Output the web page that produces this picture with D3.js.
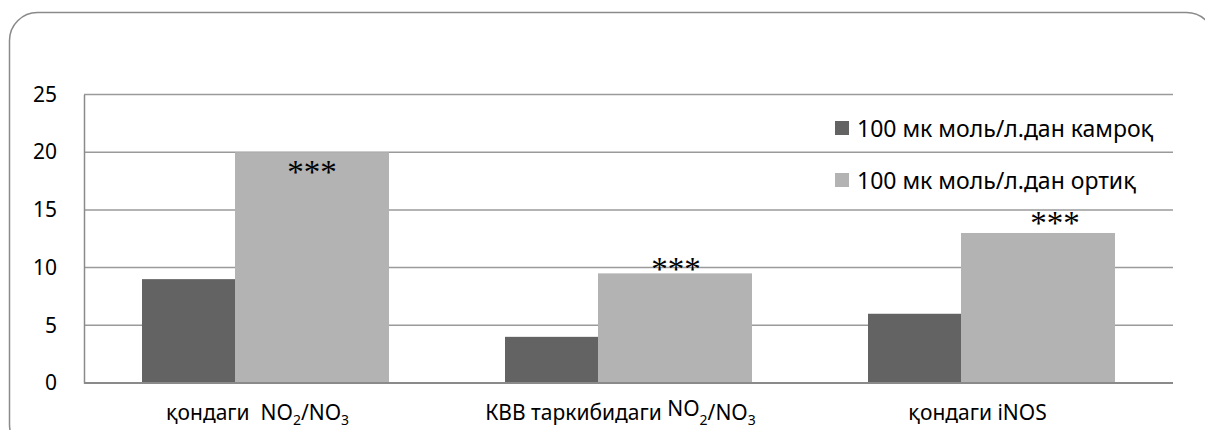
<!DOCTYPE html>
<html>
<head>
<meta charset="utf-8">
<script src="https://cdn.jsdelivr.net/npm/d3@7"></script>
<style>
  body { margin: 0; background: #fff; }
  svg { display: block; }
  text { font-family: "Noto Sans", sans-serif; fill: #000; }
</style>
</head>
<body>
<div id="chart"></div>
<script>
// chart data
const categories = ['cat1', 'cat2', 'cat3'];
const series = ['100 мк моль/л.дан камроқ', '100 мк моль/л.дан ортиқ'];
const lowValues = [9, 4, 6];
const highValues = [20, 9.5, 13];
const yTicks = [0, 5, 10, 15, 20, 25];
const stars = ['***', '***', '***'];
// category labels as [text, kind] pieces: 'n' normal, 's' subscript, 'r' raised
const catLabels = [
  [['қондаги  NO', 'n'], ['2', 's'], ['/NO', 'n'], ['3', 's']],
  [['КВВ таркибидаги ', 'n'], ['NO', 'r'], ['2', 's'], ['/NO', 'n'], ['3', 's']],
  [['қондаги iNOS', 'n']]
];

const boxWidth = 1205;
const boxHeight = 430;
const colors = ['#636363', '#b3b3b3'];

const svg = d3.select('#chart')
  .append('svg')
  .attr('width', boxWidth)
  .attr('height', boxHeight);

// outer rounded frame (cut off at right and bottom)
svg.append('rect')
  .attr('x', 9.5)
  .attr('y', 12.5)
  .attr('width', 1205)
  .attr('height', 440)
  .attr('rx', 28)
  .attr('fill', 'none')
  .attr('stroke', '#8a8a8a')
  .attr('stroke-width', 1.5);

const margin = { top: 94.5, left: 84, right: 32, bottom: 47 };
const plotW = boxWidth - margin.left - margin.right;
const plotH = boxHeight - margin.top - margin.bottom;

const graph = svg.append('g')
  .attr('transform', `translate(${margin.left}, ${margin.top})`);

const xScale = d3.scaleBand()
  .domain(categories)
  .range([0, plotW]);

const yScale = d3.scaleLinear()
  .domain([0, 25])
  .range([plotH, 0]);

// gridlines
graph.selectAll('.grid')
  .data(yTicks.filter(d => d > 0))
  .enter()
  .append('line')
  .attr('class', 'grid')
  .attr('x1', 0)
  .attr('x2', plotW)
  .attr('y1', d => yScale(d))
  .attr('y2', d => yScale(d))
  .attr('stroke', '#9a9a9a')
  .attr('stroke-width', 1.5);

// y axis
const yAxis = d3.axisLeft(yScale)
  .tickValues(yTicks)
  .tickSize(0)
  .tickPadding(27);
const yAxisGroup = graph.append('g').call(yAxis);
yAxisGroup.select('path')
  .attr('stroke', '#8a8a8a')
  .attr('stroke-width', 1.5);
yAxisGroup.selectAll('text')
  .style('font-family', '"Noto Sans", sans-serif')
  .style('font-size', '21px')
  .attr('fill', '#000');

// bars: second series overlaps the first
const barW = 154;
const step = 93;
const clusterW = barW + step;
const barX = (i, s) => xScale(categories[i]) + (xScale.bandwidth() - clusterW) / 2 + s * step;

[lowValues, highValues].forEach((vals, s) => {
  graph.selectAll('.bar' + s)
    .data(vals)
    .enter()
    .append('rect')
    .attr('class', 'bar' + s)
    .attr('x', (d, i) => barX(i, s))
    .attr('y', d => yScale(d))
    .attr('width', barW)
    .attr('height', d => plotH - yScale(d))
    .attr('fill', colors[s]);
});

// x axis line
graph.append('line')
  .attr('x1', 0)
  .attr('x2', plotW)
  .attr('y1', plotH)
  .attr('y2', plotH)
  .attr('stroke', '#8a8a8a')
  .attr('stroke-width', 2);

// significance stars (placed by hand in the original)
const starOffsets = [[0, 31], [1, 7], [17, 1]];
graph.selectAll('.star')
  .data(stars)
  .enter()
  .append('text')
  .attr('class', 'star')
  .attr('x', (d, i) => barX(i, 1) + barW / 2 + starOffsets[i][0])
  .attr('y', (d, i) => yScale(highValues[i]) + starOffsets[i][1])
  .attr('text-anchor', 'middle')
  .style('font-family', '"Liberation Serif", serif')
  .style('font-size', '33px')
  .attr('fill', '#1a1a1a')
  .text(d => d);

// category labels
const catText = graph.selectAll('.cat')
  .data(catLabels)
  .enter()
  .append('text')
  .attr('class', 'cat')
  .attr('x', (d, i) => xScale(categories[i]) + xScale.bandwidth() / 2 + (i === 2 ? -14 : -8))
  .attr('y', plotH + 37)
  .attr('text-anchor', 'middle')
  .style('font-size', '21px')
  .attr('xml:space', 'preserve');

catText.each(function(parts) {
  const t = d3.select(this);
  let shift = 0;
  parts.forEach(([str, kind]) => {
    const target = kind === 's' ? 5 : kind === 'r' ? -4 : 0;
    const ts = t.append('tspan').text(str);
    if (target !== shift) ts.attr('dy', target - shift);
    if (kind === 's') ts.style('font-size', '14px');
    shift = target;
  });
});

// legend
const legend = svg.append('g');
const legendY = [128, 180];
series.forEach((name, s) => {
  legend.append('rect')
    .attr('x', 835)
    .attr('y', legendY[s] - 7)
    .attr('width', 14)
    .attr('height', 14)
    .attr('fill', colors[s]);
  legend.append('text')
    .attr('x', 857)
    .attr('y', legendY[s])
    .attr('dominant-baseline', 'central')
    .style('font-size', '23px')
    .text(name);
});
</script>
</body>
</html>
